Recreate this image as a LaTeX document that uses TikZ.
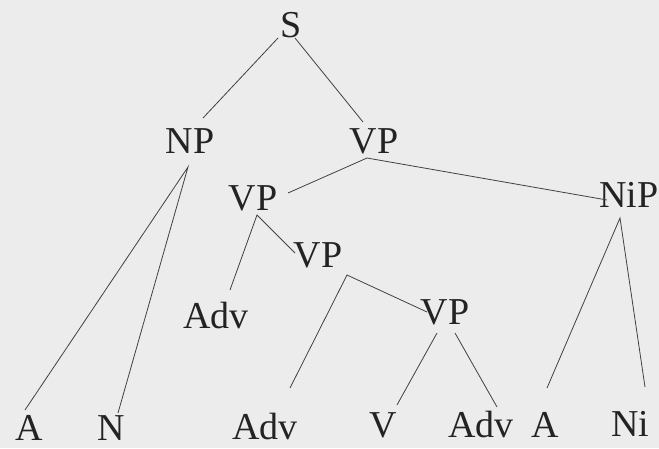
\documentclass[tikz,border=0pt]{standalone}
\usepackage{fontspec}
\setmainfont{Liberation Serif}
\usepackage{xcolor}
\usetikzlibrary{calc}
\definecolor{paper}{RGB}{236,236,236}
\definecolor{ink}{RGB}{35,35,35}
\definecolor{wire}{RGB}{65,65,65}

\begin{document}
\begin{tikzpicture}[x=1pt, y=-1pt,
    every node/.style={inner sep=0pt, text height=26pt, text depth=0pt, text=ink,
        font=\fontsize{38}{40}\selectfont},
    branch/.style={draw=wire, line width=0.8pt}]
    \fill[paper] (0,0) rectangle (659,448);
    \useasboundingbox (0,0) rectangle (659,448);
    % phrase nodes
    \node (s)   at (291,24)  {S};
    \node (np)  at (190,140) {NP};
    \node (vp1) at (374,140) {VP};
    \node (vp2) at (253,197) {VP};
    \node (nip) at (629,194) {NiP};
    \node (vp3) at (318,254) {VP};
    \node (adv1) at (216,315) {Adv};
    \node (vp4) at (445,311) {VP};
    % words
    \node (a1)   at (29,427)  {A};
    \node (n1)   at (111,427) {N};
    \node (adv2) at (265,426) {Adv};
    \node (v1)   at (383,424) {V};
    \node (adv3) at (481,424) {Adv};
    \node (a2)   at (545,424) {A};
    \node (ni)   at (630,423) {Ni};
    % branches
    \draw[branch] ($(s)+(-13,14)$) -- ($(np)+(13,-22)$);
    \draw[branch] ($(s)+(4,14)$) -- ($(vp1)+(-11,-18)$);
    \draw[branch] ($(vp2)+(35,-4)$) -- ($(vp1)+(-7,18)$) -- ($(nip)+(-22,6)$);
    \draw[branch] ($(a1)+(-4,-17)$) -- ($(np)+(-2,27)$) -- ($(n1)+(7,-14)$);
    \draw[branch] ($(adv1)+(14,-25)$) -- ($(vp2)+(4,18)$) -- ($(vp3)+(-23,-1)$);
    \draw[branch] ($(adv2)+(25,-38)$) -- ($(vp3)+(29,21)$) -- ($(vp4)+(-18,1)$);
    \draw[branch] ($(v1)+(14,-19)$) -- ($(vp4)+(-8,22)$);
    \draw[branch] ($(vp4)+(10,22)$) -- ($(adv3)+(16,-17)$);
    \draw[branch] ($(a2)+(2,-36)$) -- ($(nip)+(-9,24)$) -- ($(ni)+(15,-36)$);
\end{tikzpicture}
\end{document}
